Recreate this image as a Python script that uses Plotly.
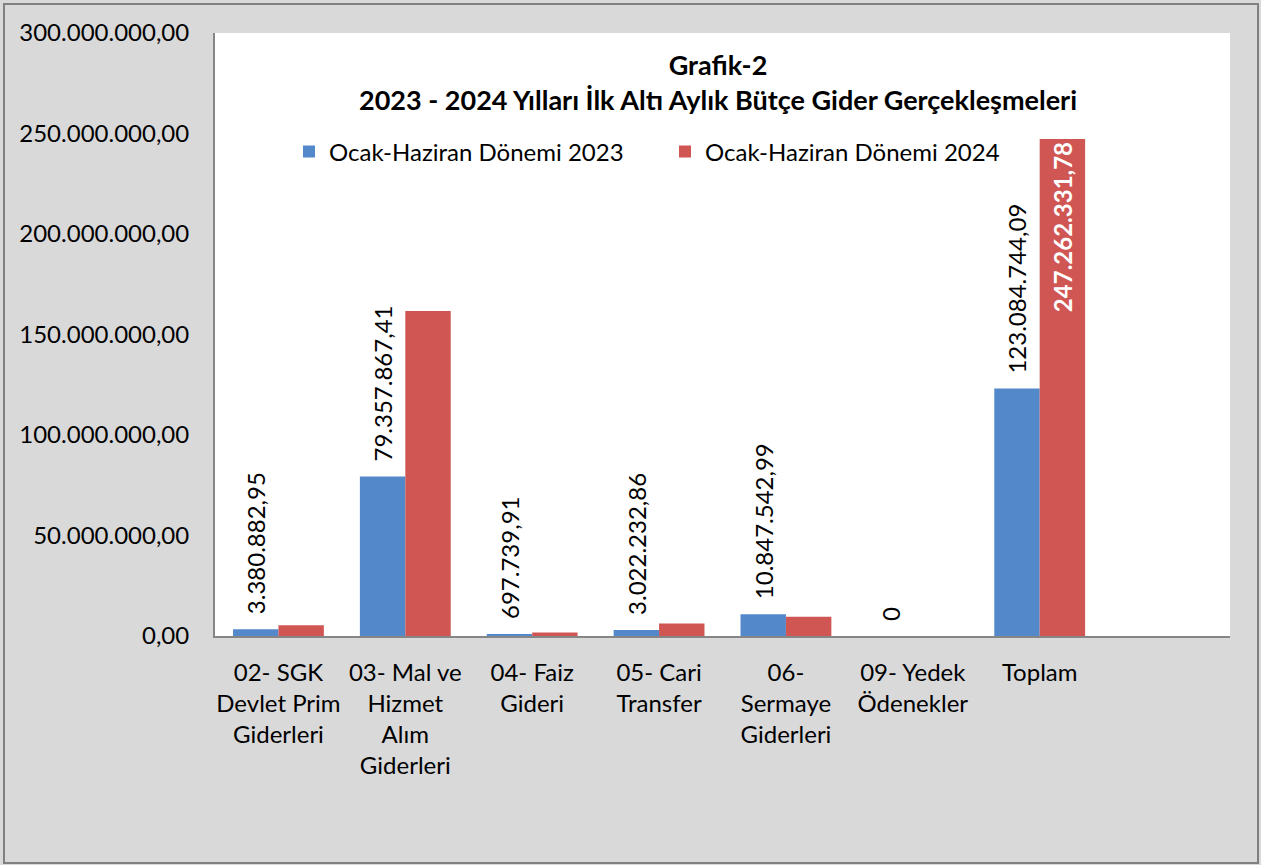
import plotly.graph_objects as go

categories = ["02- SGK<br>Devlet Prim<br>Giderleri",
              "03- Mal ve<br>Hizmet<br>Alım<br>Giderleri",
              "04- Faiz<br>Gideri",
              "05- Cari<br>Transfer",
              "06-<br>Sermaye<br>Giderleri",
              "09- Yedek<br>Ödenekler",
              "Toplam",
              " "]

values_2023 = [3380882.95, 79357867.41, 697739.91, 3022232.86, 10847542.99, 0, 123084744.09, None]
labels_2023 = ["3.380.882,95", "79.357.867,41", "697.739,91", "3.022.232,86",
               "10.847.542,99", "0", "123.084.744,09", ""]

values_2024 = [5300000, 161700000, 1800000, 6200000, 9600000, 0, 247262331.78, None]
labels_2024 = ["", "", "", "", "", "", "247.262.331,78", ""]

series_names = ["Ocak-Haziran Dönemi 2023", "Ocak-Haziran Dönemi 2024"]

FONT = "Lato"
BLUE = "#5389CB"
RED = "#D05654"

fig = go.Figure()
fig.add_trace(go.Bar(
    x=categories, y=values_2023, name=series_names[0],
    marker=dict(color=BLUE, line=dict(width=0)),
    text=[("\u2002" + t) if t else "" for t in labels_2023],
    textposition="outside", textangle=-90,
    textfont=dict(family=FONT, size=24, color="#000000"),
    constraintext="none", cliponaxis=False,
))
fig.add_trace(go.Bar(
    x=categories, y=values_2024, name=series_names[1],
    marker=dict(color=RED, line=dict(width=0)),
    text=labels_2024, textposition="inside", insidetextanchor="end", textangle=-90,
    textfont=dict(family=FONT, size=24, color="#FFFFFF", weight="bold"),
    constraintext="none", cliponaxis=False,
))

W, H = 1261, 865
L, R, T, B = 215, 31, 33, 229
pw, ph = W - L - R, H - T - B

def px_x(p):
    return (p - L) / pw

def px_y(p):
    return (H - B - p) / ph

fig.update_layout(
    width=W, height=H,
    margin=dict(l=L, r=R, t=T, b=B),
    paper_bgcolor="#D9D9D9",
    plot_bgcolor="#FFFFFF",
    separators=",.",
    barmode="group",
    bargap=0.284,
    bargroupgap=0.0,
    font=dict(family=FONT, size=24, color="#000000"),
    title=dict(
        text="<b>Grafik-2</b><br><b>2023 - 2024 Yılları İlk Altı Aylık Bütçe Gider Gerçekleşmeleri</b>",
        font=dict(family=FONT, size=27, color="#000000"),
        x=0.4956, xanchor="center", xref="paper",
        y=px_y(75), yanchor="top", yref="paper",
    ),
    legend=dict(
        orientation="h",
        x=px_x(289), xanchor="left",
        y=px_y(152), yanchor="middle",
        font=dict(family=FONT, size=24, color="#000000"),
        bgcolor="rgba(0,0,0,0)",
        entrywidth=331, entrywidthmode="pixels",
        itemwidth=30,
    ),
    showlegend=True,
    xaxis=dict(
        showline=True, linecolor="#868686", linewidth=2,
        ticks="", showgrid=False, tickangle=0,
        tickfont=dict(family=FONT, size=24, color="#000000"),
        ticklabelstandoff=14,
    ),
    yaxis=dict(
        range=[0, 300000000], dtick=50000000,
        tickformat=",.2f",
        showline=True, linecolor="#868686", linewidth=2,
        ticks="", showgrid=False, zeroline=False,
        tickfont=dict(family=FONT, size=24, color="#000000"),
        ticklabelstandoff=19,
    ),
    shapes=[dict(
        type="rect", xref="paper", yref="paper",
        x0=px_x(4), x1=px_x(1258), y0=px_y(863), y1=px_y(4),
        line=dict(color="#808080", width=2), fillcolor="rgba(0,0,0,0)",
        layer="below",
    )],
)

fig.write_html("out.html", config={"displayModeBar": False},
               post_script="document.body.style.margin='0';document.body.style.overflow='hidden';")
